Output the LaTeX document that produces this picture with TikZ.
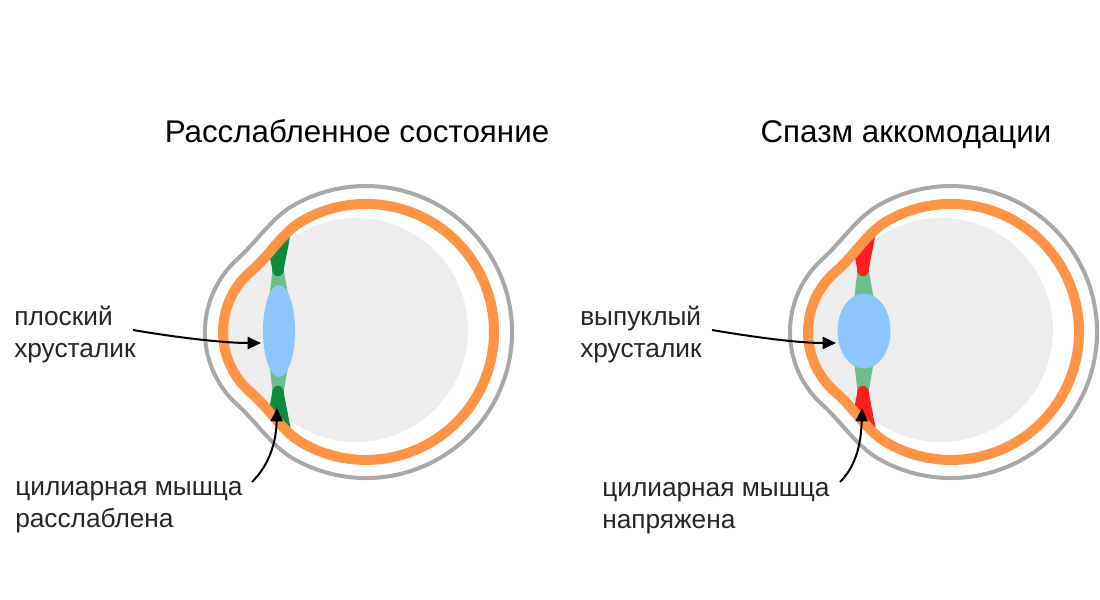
\documentclass[tikz,border=0pt]{standalone}
\usepackage{fontspec}
\setmainfont{Liberation Sans}
\usepackage{tikz}
\usetikzlibrary{arrows.meta}
\definecolor{sclera}{HTML}{A8A8A8}
\definecolor{choroid}{HTML}{FF9447}
\definecolor{vitreous}{HTML}{EDEDED}
\definecolor{lensblue}{HTML}{8DC5FD}
\definecolor{zonule}{HTML}{6DBE8E}
\definecolor{musgreen}{HTML}{0B8B3B}
\definecolor{musred}{HTML}{FF1E1E}
\definecolor{txt}{HTML}{262626}
\tikzset{scleraline/.style={insert path={(293,205.6) arc[start angle=240,end angle=480,radius=146]
           .. controls (271.4,445.9) and (256,421.5) .. (237.4,404.8)
           arc[start angle=132,end angle=228,radius=98]
           .. controls (256,242.5) and (271.4,218.1) .. (293,205.6) -- cycle}},
         choroidline/.style={insert path={(302,221.1) arc[start angle=240,end angle=480,radius=128]
           .. controls (282.1,431.4) and (269.2,408.1) .. (251.6,393.3)
           arc[start angle=130,end angle=230,radius=80]
           .. controls (269.2,255.9) and (282.1,232.6) .. (302,221.1) -- cycle}},
         ptr/.style={-{Triangle[length=10pt,width=9pt]},line width=1.5pt,black},
         title/.style={font=\fontsize{23.5}{28}\selectfont,text=black,inner sep=0pt,anchor=base},
         lbl/.style={font=\fontsize{19.7}{24}\selectfont,text=txt,align=left,inner sep=0pt,anchor=base west}}

\begin{document}
\begin{tikzpicture}[x=0.75pt,y=-0.75pt]
\useasboundingbox (0,0) rectangle (1100,600);
% two eyes, same globe
\foreach \dx/\mus/\lrx/\lry in {0/musgreen/16/46,585/musred/26.5/37.5}{
\begin{scope}[shift={(\dx,0)}]
\draw[sclera,line width=3pt,line join=round,scleraline];
\begin{scope}
\clip[choroidline];
\fill[vitreous] (356,330) circle (112) (303,332) circle (80);
\fill[zonule] (273,266)--(283,266)--(289,300)--(269,300)--cycle;
\fill[zonule] (273,396)--(283,396)--(289,360)--(269,360)--cycle;
\fill[lensblue] (279,331) ellipse ({\lrx} and {\lry});
\fill[\mus] (265,232)--(291,232)--(284,268) .. controls (284.5,279) and (271.5,279) .. (272,268)--cycle;
\fill[\mus] (265,430)--(291,430)--(284,394) .. controls (284.5,383) and (271.5,383) .. (272,394)--cycle;
\end{scope}
\draw[choroid,line width=7.5pt,line join=round,choroidline];
\end{scope}}
% titles
\node[title] (relaxTitle) at (357,142) {Расслабленное состояние};
\node[title] (spasmTitle) at (906,142) {Спазм аккомодации};
% labels
\node[lbl] (flat) at (14,357) {плоский\\хрусталик};
\node[lbl] (relaxed) at (15,527) {цилиарная мышца\\расслаблена};
\node[lbl] (convex) at (580,357) {выпуклый\\хрусталик};
\node[lbl] (tense) at (602,528) {цилиарная мышца\\напряжена};
% arrows
\coordinate (flatFrom) at (133,330);
\coordinate (flatTip) at (261,343);
\coordinate (relaxedFrom) at (252,482);
\coordinate (relaxedTip) at (277,408);
\coordinate (convexFrom) at (712,330);
\coordinate (convexTip) at (836,343);
\coordinate (tenseFrom) at (840,482);
\coordinate (tenseTip) at (862,408);
\draw[ptr] (flatFrom) .. controls (180,338) and (225,343) .. (flatTip);
\draw[ptr] (relaxedFrom) .. controls (266,468) and (276,448) .. (relaxedTip);
\draw[ptr] (convexFrom) .. controls (759,338) and (800,343) .. (convexTip);
\draw[ptr] (tenseFrom) .. controls (854,468) and (861,448) .. (tenseTip);
\end{tikzpicture}
\end{document}
